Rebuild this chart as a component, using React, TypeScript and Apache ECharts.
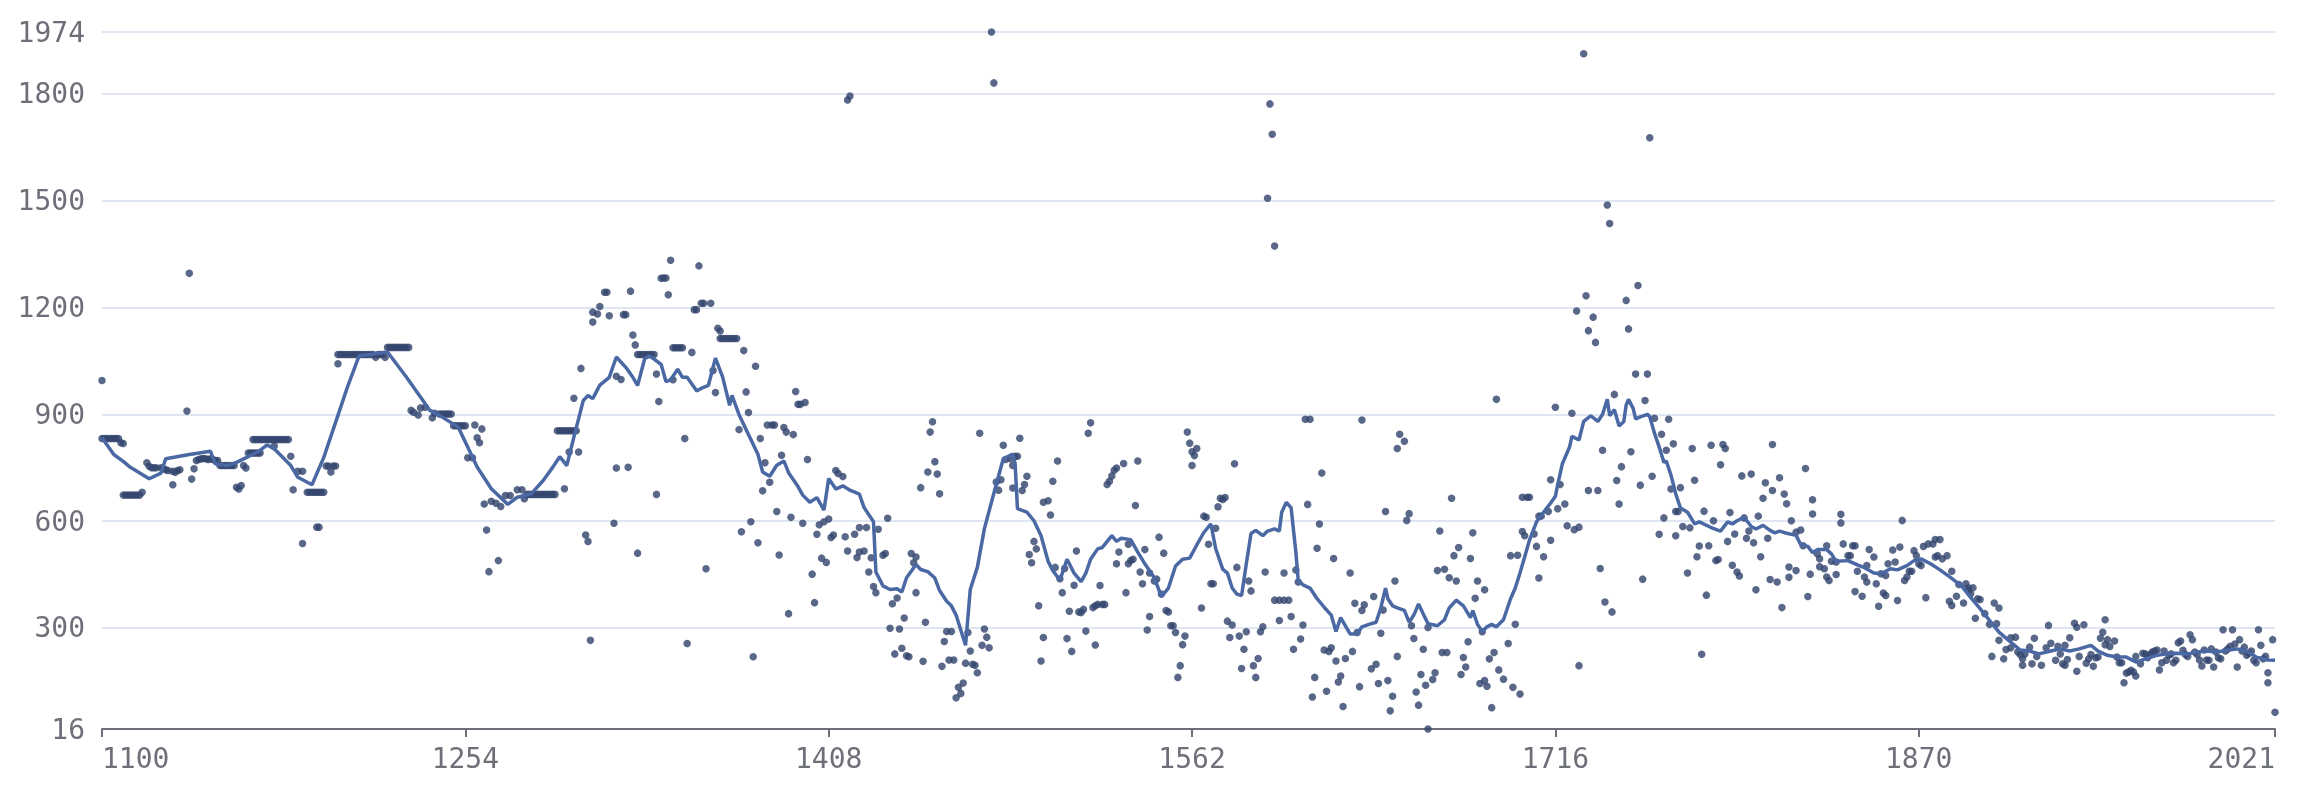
import React, { useEffect, useRef } from "react";
import * as echarts from "echarts";

// ---------- observations [year, value] ----------
const obs1100s: [number, number][] = [
  [1100, 995], [1100, 832], [1101, 832], [1102, 832], [1103, 832], [1104, 832], [1105, 832], [1106, 832], [1107, 832], [1108, 820],
  [1109, 818], [1109, 673], [1110, 673], [1111, 673], [1112, 673], [1113, 673], [1114, 673], [1115, 673], [1116, 673], [1117, 681],
  [1119, 764], [1120, 754], [1121, 750], [1122, 750], [1123, 750], [1125, 750], [1126, 748], [1127, 744], [1128, 742], [1130, 740],
  [1131, 737], [1132, 742], [1133, 744], [1130, 702], [1136, 909], [1137, 1296], [1138, 718], [1139, 747],
  [1140, 770], [1141, 773], [1142, 775], [1143, 776], [1144, 775], [1145, 773], [1146, 775], [1147, 773], [1148, 770], [1149, 770],
  [1150, 756], [1151, 756], [1152, 756], [1153, 756], [1154, 756], [1155, 756], [1156, 756],
  [1157, 695], [1158, 690], [1159, 700], [1160, 756], [1161, 749],
  [1162, 791], [1163, 791], [1164, 791], [1165, 791], [1166, 791], [1167, 791],
  [1164, 829], [1165, 829], [1166, 829], [1167, 829], [1168, 829], [1169, 829], [1170, 829], [1171, 829], [1172, 829], [1173, 829],
  [1174, 829], [1175, 829], [1176, 829], [1177, 829], [1178, 829], [1179, 829],
  [1173, 811], [1180, 782], [1181, 688], [1183, 740], [1185, 740], [1185, 537],
  [1187, 681], [1188, 681], [1189, 681], [1190, 681], [1191, 681], [1192, 681], [1193, 681], [1194, 681], [1191, 583], [1192, 583],
  [1195, 755], [1196, 755], [1197, 738], [1198, 755], [1199, 755],
];

const obs1200s: [number, number][] = [
  [1200, 1042], [1200, 1068], [1201, 1068], [1202, 1068], [1203, 1068], [1204, 1068], [1205, 1068], [1206, 1068], [1207, 1068],
  [1208, 1068], [1209, 1068], [1210, 1068], [1211, 1068], [1212, 1068], [1213, 1068], [1214, 1068], [1215, 1068], [1216, 1060],
  [1217, 1068], [1218, 1068], [1219, 1068], [1220, 1060],
  [1221, 1088], [1222, 1088], [1223, 1088], [1224, 1088], [1225, 1088], [1226, 1088], [1227, 1088], [1228, 1088], [1229, 1088], [1230, 1088],
  [1231, 911], [1232, 906], [1234, 898], [1235, 918], [1237, 920], [1240, 890], [1241, 903], [1243, 901], [1244, 901], [1245, 901],
  [1246, 901], [1247, 901], [1248, 901], [1249, 868], [1250, 868], [1251, 868], [1252, 868], [1253, 868], [1254, 868],
  [1255, 778], [1257, 778], [1258, 870], [1261, 859], [1259, 834], [1260, 820], [1262, 648], [1263, 575], [1264, 458], [1268, 489],
  [1265, 656], [1267, 650], [1269, 641], [1271, 672], [1273, 672], [1276, 688], [1278, 688], [1279, 663],
  [1280, 675], [1281, 675], [1282, 675], [1283, 675], [1284, 675], [1285, 675], [1286, 675], [1287, 675], [1288, 675], [1289, 675],
  [1290, 675], [1291, 675], [1292, 675], [1296, 691],
  [1293, 854], [1294, 854], [1295, 854], [1296, 854], [1297, 854], [1298, 854], [1299, 854], [1300, 854], [1301, 854],
  [1298, 794], [1300, 945],
];

const obs1300s: [number, number][] = [
  [1302, 794], [1303, 1029], [1305, 561], [1306, 543], [1307, 265], [1308, 1159], [1308, 1187], [1310, 1182], [1311, 1203],
  [1313, 1243], [1314, 1243], [1315, 1177], [1321, 1180], [1322, 1180], [1324, 1246], [1325, 1123], [1326, 1095], [1318, 749],
  [1323, 751], [1317, 594], [1327, 510], [1327, 1068], [1328, 1068], [1329, 1068], [1330, 1068], [1331, 1068], [1332, 1068],
  [1333, 1068], [1334, 1068], [1318, 1007], [1320, 998], [1335, 1013], [1336, 936], [1335, 675], [1337, 1282],
  [1341, 1333], [1338, 1283], [1339, 1283], [1340, 1236], [1353, 1317], [1351, 1194], [1352, 1194], [1354, 1212], [1355, 1212],
  [1358, 1212], [1361, 1142], [1362, 1134], [1362, 1113], [1363, 1113], [1364, 1113], [1365, 1113], [1366, 1113], [1367, 1113],
  [1368, 1113], [1369, 1113], [1372, 1079], [1377, 1035], [1342, 1087], [1343, 1087], [1344, 1087], [1345, 1087], [1346, 1087],
  [1350, 1074], [1342, 997], [1359, 1023], [1360, 961], [1347, 832], [1356, 466], [1348, 256], [1373, 963], [1374, 905],
  [1370, 857], [1376, 219], [1379, 832], [1381, 764], [1380, 685], [1383, 709], [1375, 598], [1371, 570], [1378, 539],
  [1382, 870], [1384, 870], [1385, 870], [1386, 627], [1387, 505], [1388, 785], [1389, 863], [1390, 850], [1393, 843],
  [1391, 340], [1392, 611], [1394, 964], [1395, 928], [1396, 928], [1398, 933], [1399, 773], [1397, 594],
];

const obs1400s: [number, number][] = [
  [1401, 451], [1402, 371], [1403, 563], [1404, 590], [1406, 598], [1408, 606], [1405, 496], [1407, 484], [1409, 554], [1410, 561],
  [1411, 742], [1412, 734], [1414, 725], [1415, 556], [1416, 516], [1416, 1783], [1417, 1794], [1419, 563], [1420, 498], [1421, 513],
  [1423, 516], [1421, 582], [1424, 582], [1425, 457], [1426, 497], [1427, 416], [1428, 399], [1429, 577], [1431, 504], [1432, 509],
  [1433, 608], [1434, 299], [1435, 368], [1436, 227], [1437, 384], [1438, 297], [1439, 243], [1440, 328], [1441, 222], [1442, 219],
  [1443, 509], [1444, 483], [1445, 499], [1445, 399], [1447, 694], [1448, 206], [1449, 316], [1450, 738],
  [1451, 850], [1452, 879], [1453, 767], [1454, 732], [1455, 677], [1472, 847], [1482, 813], [1489, 833], [1483, 773], [1485, 775],
  [1487, 782], [1488, 782], [1479, 710], [1481, 716], [1480, 687], [1486, 693], [1486, 756], [1490, 686], [1491, 703], [1492, 726],
  [1457, 262], [1458, 290], [1460, 290], [1456, 192], [1459, 210], [1461, 210], [1462, 104], [1463, 133], [1465, 145], [1464, 116],
  [1466, 201], [1467, 287], [1468, 235], [1469, 198], [1470, 195], [1471, 174], [1473, 251], [1474, 297], [1475, 274], [1476, 244],
  [1477, 1974], [1478, 1831], [1493, 506], [1494, 483], [1495, 543], [1496, 522], [1497, 362], [1498, 207], [1499, 273], [1499, 653],
];

const obs1500s: [number, number][] = [
  [1501, 657], [1502, 617], [1503, 712], [1505, 769], [1504, 470], [1506, 438], [1507, 399], [1508, 467], [1509, 270], [1510, 347],
  [1511, 234], [1512, 420], [1513, 516], [1514, 345], [1515, 343], [1516, 352], [1517, 291], [1518, 847], [1519, 876], [1520, 357],
  [1521, 362], [1522, 366], [1524, 366], [1525, 366], [1521, 252], [1523, 419], [1526, 703], [1527, 712], [1528, 727], [1529, 743],
  [1530, 749], [1530, 480], [1531, 513], [1533, 762], [1534, 399], [1535, 480], [1536, 489], [1535, 535], [1537, 493], [1538, 644],
  [1539, 769], [1540, 457], [1541, 424], [1542, 520], [1543, 294], [1544, 332], [1544, 454], [1546, 432], [1547, 437], [1548, 555],
  [1549, 395], [1550, 510], [1551, 349], [1552, 345], [1553, 306], [1554, 306], [1555, 287], [1556, 161], [1557, 194], [1558, 253],
  [1559, 277], [1560, 850], [1561, 819], [1562, 756], [1562, 795], [1563, 784], [1564, 804], [1566, 356], [1567, 614], [1568, 611],
  [1569, 535], [1570, 424], [1571, 424], [1572, 580], [1573, 640], [1574, 664], [1575, 661], [1576, 666], [1580, 761], [1577, 319],
  [1579, 308], [1578, 273], [1581, 470], [1582, 277], [1585, 289], [1583, 186], [1584, 240], [1586, 432], [1587, 404], [1588, 194],
  [1589, 161], [1590, 214], [1591, 289], [1592, 303], [1593, 457], [1595, 1772], [1596, 1687], [1594, 1507], [1597, 1373],
  [1597, 378], [1599, 378],
];

const obs1600s: [number, number][] = [
  [1601, 378], [1603, 378], [1599, 321], [1601, 454], [1604, 332], [1605, 240], [1606, 463], [1607, 429], [1608, 269], [1609, 308],
  [1610, 886], [1612, 886], [1611, 647], [1613, 106], [1614, 161], [1615, 524], [1616, 592], [1617, 735], [1618, 238], [1620, 234],
  [1619, 122], [1621, 244], [1622, 495], [1623, 207], [1624, 148], [1625, 165], [1626, 79], [1627, 214], [1629, 454], [1630, 234],
  [1631, 369], [1632, 287], [1633, 135], [1634, 884], [1634, 349], [1635, 365], [1638, 185], [1639, 388], [1640, 198], [1641, 144],
  [1642, 285], [1643, 350], [1644, 627], [1645, 152], [1646, 67], [1647, 108], [1648, 432], [1649, 220], [1649, 804], [1650, 844],
  [1652, 824], [1653, 602], [1654, 621], [1655, 306], [1656, 270], [1657, 120], [1658, 83], [1659, 169], [1660, 240], [1661, 139],
  [1662, 301], [1662, 16], [1664, 155], [1665, 174], [1666, 461], [1667, 572], [1668, 231], [1669, 465], [1670, 231], [1671, 441],
  [1672, 664], [1673, 503], [1674, 432], [1675, 526], [1676, 169], [1677, 217], [1678, 190], [1679, 261], [1680, 495], [1681, 567],
  [1682, 383], [1683, 432], [1684, 144], [1685, 289], [1686, 152], [1686, 407], [1687, 136], [1688, 213], [1689, 76], [1690, 231],
  [1691, 942], [1692, 182], [1694, 156], [1696, 256], [1698, 133], [1699, 310],
];

const obs1700s: [number, number][] = [
  [1701, 114], [1697, 503], [1700, 504], [1702, 667], [1704, 667], [1705, 667], [1702, 571], [1703, 559], [1707, 564], [1708, 529],
  [1709, 440], [1709, 614], [1710, 614], [1711, 500], [1713, 627], [1714, 716], [1714, 546], [1716, 920], [1717, 635], [1718, 703],
  [1720, 648], [1721, 587], [1723, 903], [1724, 576], [1726, 583], [1725, 1190], [1726, 194], [1728, 1913], [1729, 1233], [1730, 1135],
  [1730, 686], [1732, 1173], [1733, 1102], [1734, 686], [1735, 467], [1736, 799], [1737, 373], [1738, 1488], [1739, 1436], [1740, 345],
  [1741, 956], [1742, 714], [1743, 648], [1744, 753], [1746, 1220], [1747, 1140], [1748, 795], [1750, 1013], [1751, 1262], [1752, 701],
  [1753, 437], [1754, 939], [1755, 1013], [1756, 1677], [1757, 726], [1758, 889], [1760, 563], [1761, 844], [1762, 609], [1763, 799],
  [1764, 886], [1765, 690], [1766, 817], [1767, 559], [1767, 627], [1768, 627], [1769, 694], [1770, 585], [1772, 454], [1773, 581],
  [1774, 804], [1775, 715], [1776, 500], [1777, 530], [1778, 226], [1779, 628], [1780, 392], [1781, 531], [1782, 813], [1783, 601],
  [1784, 489], [1785, 492], [1786, 758], [1787, 815], [1788, 804], [1789, 543], [1790, 624], [1791, 476], [1792, 564], [1793, 457],
  [1794, 446], [1795, 727], [1796, 609], [1797, 552], [1798, 572], [1799, 732],
];

const obs1800s: [number, number][] = [
  [1800, 539], [1801, 407], [1802, 614], [1803, 500], [1804, 664], [1805, 708], [1806, 552],
  [1807, 436], [1808, 686], [1808, 815], [1810, 429], [1811, 722], [1812, 357], [1813, 676], [1814, 649], [1815, 442], [1815, 471],
  [1818, 461], [1816, 601], [1818, 569], [1820, 575], [1821, 531], [1822, 748], [1823, 388], [1824, 451], [1825, 660], [1825, 620],
  [1827, 508], [1828, 494], [1828, 472], [1830, 466], [1831, 531], [1831, 443], [1832, 433], [1835, 450], [1833, 487], [1835, 485],
  [1837, 595], [1837, 619], [1838, 536], [1840, 503], [1841, 503], [1842, 531], [1843, 531], [1844, 459], [1847, 443], [1848, 429],
  [1843, 402], [1846, 389], [1848, 475], [1849, 520], [1851, 499], [1852, 424], [1853, 361], [1854, 452], [1856, 447], [1855, 398],
  [1856, 391], [1857, 480], [1860, 485], [1859, 519], [1861, 377], [1862, 527], [1863, 602], [1864, 433], [1865, 443], [1866, 459],
  [1867, 459], [1868, 517], [1869, 503], [1870, 480], [1871, 475], [1872, 529], [1874, 536], [1876, 536], [1873, 385], [1877, 499],
  [1878, 503], [1877, 548], [1879, 548], [1880, 494], [1882, 503], [1884, 459], [1883, 375], [1884, 363], [1886, 389], [1887, 422],
  [1889, 370], [1890, 424], [1891, 413], [1893, 413], [1891, 405], [1892, 396], [1894, 327], [1895, 382], [1896, 380], [1898, 340],
];

const obs1900s: [number, number][] = [
  [1900, 310], [1901, 220], [1902, 370], [1903, 312], [1904, 356], [1904, 265], [1906, 213], [1907, 239], [1909, 244], [1911, 274],
  [1909, 272], [1912, 232], [1913, 225], [1914, 213], [1914, 195], [1915, 227], [1917, 246], [1918, 199], [1919, 271], [1920, 220],
  [1922, 195], [1924, 244], [1925, 307], [1926, 257], [1928, 209], [1929, 248], [1930, 227], [1931, 199], [1932, 195], [1932, 251],
  [1933, 211], [1934, 272], [1936, 313], [1937, 178], [1937, 302], [1940, 309], [1938, 220], [1941, 201], [1942, 213], [1943, 225],
  [1944, 192], [1945, 216], [1946, 218], [1947, 271], [1948, 288], [1949, 323], [1949, 253], [1950, 267], [1951, 248], [1953, 263],
  [1954, 218], [1955, 202], [1956, 202], [1957, 146], [1958, 173], [1959, 176], [1960, 181], [1961, 176], [1962, 165], [1962, 220],
  [1964, 199], [1965, 229], [1966, 227], [1967, 216], [1968, 225], [1969, 232], [1970, 235], [1971, 238], [1972, 182], [1973, 202],
  [1974, 235], [1975, 209], [1976, 223], [1977, 227], [1978, 202], [1979, 209], [1980, 258], [1981, 263], [1982, 237], [1983, 225],
  [1984, 220], [1985, 281], [1986, 267], [1987, 232], [1988, 225], [1989, 210], [1990, 193], [1991, 238], [1992, 210], [1993, 209],
  [1994, 241], [1995, 190], [1996, 232], [1997, 216], [1998, 213], [1999, 295],
];

const obs2000s: [number, number][] = [
  [2000, 235], [2001, 241], [2002, 248], [2003, 295], [2004, 255], [2005, 190], [2006, 267], [2007, 235], [2008, 246], [2009, 223],
  [2010, 229], [2011, 235], [2012, 209], [2013, 202], [2014, 295], [2015, 251], [2016, 213], [2017, 220], [2018, 174], [2018, 146],
  [2020, 267], [2021, 63],
];

// ---------- trend line [year, value] ----------
const trendMedieval: [number, number][] = [
  [1100, 834], [1105, 787], [1109, 768], [1112, 751], [1120, 719], [1125, 735], [1127, 775], [1137, 787], [1146, 796], [1148, 761],
  [1153, 756], [1157, 765], [1166, 794], [1170, 814], [1173, 803], [1180, 756], [1183, 723], [1189, 702], [1194, 779], [1200, 897],
  [1204, 976], [1209, 1065], [1214, 1068], [1218, 1072], [1221, 1075], [1229, 1005], [1239, 911], [1243, 897], [1251, 864], [1255, 808],
  [1259, 752], [1265, 691], [1272, 647], [1276, 667], [1282, 677], [1287, 714], [1291, 751], [1294, 781], [1297, 756], [1300, 836],
  [1304, 939], [1306, 953], [1308, 944], [1311, 982], [1315, 1004], [1318, 1061], [1322, 1032], [1325, 1004], [1327, 981], [1330, 1056],
  [1332, 1064], [1334, 1055], [1337, 1040], [1339, 992], [1341, 997], [1344, 1027], [1346, 1004], [1348, 1004], [1352, 966], [1355, 976],
  [1357, 981], [1360, 1058], [1363, 1006], [1366, 925], [1367, 953], [1370, 899], [1374, 843], [1378, 788], [1380, 738], [1383, 726],
  [1386, 757], [1389, 769], [1391, 736], [1395, 697], [1397, 673], [1400, 653], [1403, 666], [1406, 631], [1408, 720], [1411, 690],
  [1414, 699], [1417, 687], [1421, 676], [1423, 638], [1427, 598], [1428, 457], [1431, 418], [1434, 408], [1437, 410], [1439, 401],
  [1441, 441], [1445, 478], [1447, 464], [1450, 458], [1453, 440], [1455, 405], [1458, 375], [1460, 362], [1462, 336], [1466, 251],
  [1468, 408], [1471, 470], [1474, 579], [1479, 703], [1482, 775], [1486, 788], [1487, 762], [1488, 635], [1492, 625], [1495, 601],
  [1498, 559],
];

const trendEarlyModern: [number, number][] = [
  [1501, 487], [1503, 461], [1506, 434], [1509, 493], [1512, 454], [1515, 430], [1517, 454], [1519, 493], [1522, 522], [1524, 526],
  [1528, 559], [1530, 543], [1532, 552], [1536, 548], [1539, 513], [1542, 480], [1546, 441], [1549, 388], [1552, 412], [1555, 474],
  [1558, 493], [1561, 496], [1564, 533], [1567, 568], [1570, 592], [1572, 523], [1575, 465], [1577, 454], [1579, 412], [1581, 395],
  [1583, 391], [1585, 480], [1587, 565], [1589, 574], [1592, 559], [1594, 572], [1597, 578], [1599, 572], [1600, 625], [1602, 653],
  [1604, 637], [1606, 513], [1607, 434], [1609, 421], [1612, 412], [1615, 382], [1618, 358], [1621, 336], [1623, 290], [1625, 329],
  [1627, 306], [1629, 283], [1632, 283], [1634, 303], [1637, 310], [1640, 316], [1642, 356], [1644, 412], [1645, 382], [1647, 362],
  [1649, 356], [1652, 349], [1654, 316], [1656, 336], [1658, 367], [1660, 339], [1662, 312], [1666, 306], [1669, 323], [1671, 356],
  [1674, 378], [1677, 362], [1680, 329], [1681, 349], [1683, 310], [1685, 290], [1687, 303], [1689, 310], [1691, 303], [1694, 323],
  [1697, 382], [1699, 412], [1701, 454], [1703, 500], [1705, 546], [1708, 598], [1711, 625], [1714, 651], [1716, 670], [1717, 703],
  [1719, 762], [1722, 808], [1723, 838], [1726, 828], [1728, 880], [1731, 896], [1734, 880], [1736, 900], [1738, 942], [1739, 896],
  [1741, 913], [1743, 867], [1745, 880], [1746, 926], [1747, 942], [1749, 916], [1750, 887], [1752, 893], [1755, 900], [1756, 893],
  [1758, 847], [1760, 808], [1762, 765], [1763, 769], [1765, 729], [1767, 677], [1769, 637], [1772, 625], [1775, 592], [1777, 598],
  [1782, 582], [1786, 572], [1789, 598], [1791, 592], [1793, 601], [1796, 611], [1799, 585],
];

const trendModern: [number, number][] = [
  [1801, 578], [1804, 588], [1807, 574], [1809, 567], [1811, 572], [1814, 566], [1818, 560], [1820, 534], [1823, 529], [1825, 511],
  [1827, 520], [1831, 520], [1833, 508], [1835, 487], [1840, 489], [1844, 477], [1847, 469], [1851, 454], [1854, 452], [1858, 466],
  [1861, 463], [1865, 475], [1868, 489], [1871, 494], [1875, 480], [1879, 463], [1883, 444], [1888, 419], [1892, 386], [1896, 354],
  [1900, 321], [1904, 288], [1909, 260], [1913, 238], [1917, 235], [1921, 227], [1926, 235], [1930, 241], [1934, 235], [1938, 241],
  [1943, 251], [1946, 235], [1950, 223], [1954, 218], [1958, 218], [1962, 204], [1967, 215], [1971, 223], [1975, 227], [1979, 229],
  [1984, 227], [1988, 232], [1992, 235], [1996, 232], [2001, 238], [2005, 241], [2009, 235], [2013, 218], [2018, 210], [2021, 209],
];

const X_MIN = 1100;
const X_MAX = 2021;
const X_STEP = 154;
const Y_MIN = 16;
const Y_MAX = 1974;

export default function App() {
  const ref = useRef<HTMLDivElement>(null);

  useEffect(() => {
    if (!ref.current) return;
    const chart = echarts.init(ref.current, undefined, { renderer: "svg" });
    const observations = [
      ...obs1100s, ...obs1200s, ...obs1300s, ...obs1400s, ...obs1500s,
      ...obs1600s, ...obs1700s, ...obs1800s, ...obs1900s, ...obs2000s,
    ];
    const trend = [...trendMedieval, ...trendEarlyModern, ...trendModern];
    const labelStyle = {
      fontFamily: "'DejaVu Sans Mono', monospace",
      fontSize: 28,
      color: "#6E7079",
      formatter: (v: number) => String(v),
    };
    chart.setOption({
      animation: false,
      grid: { left: 102, right: 37, top: 32, bottom: 61, containLabel: false },
      xAxis: {
        type: "value",
        min: X_MIN,
        max: X_MAX,
        interval: X_STEP,
        splitLine: { show: false },
        axisLine: { show: true, lineStyle: { color: "#6E7079", width: 2 } },
        axisTick: { show: true, length: 8, lineStyle: { color: "#6E7079", width: 2 } },
        axisLabel: {
          ...labelStyle,
          margin: 15,
          alignMinLabel: "left",
          alignMaxLabel: "right",
        },
      },
      yAxis: {
        type: "value",
        min: Y_MIN,
        max: Y_MAX,
        splitNumber: 7,
        axisLine: { show: false },
        axisTick: { show: false },
        splitLine: { show: true, lineStyle: { color: "#E0E6F1", width: 2 } },
        axisLabel: { ...labelStyle, margin: 17 },
      },
      series: [
        {
          type: "scatter",
          data: observations,
          symbolSize: 7.5,
          itemStyle: { color: "#34466f", opacity: 0.82 },
          z: 2,
        },
        {
          type: "line",
          data: trend,
          showSymbol: false,
          symbol: "none",
          lineStyle: { color: "#4a68a3", width: 3.5 },
          z: 3,
        },
      ],
    });
    return () => chart.dispose();
  }, []);

  return (
    <div
      ref={ref}
      style={{ position: "fixed", left: 0, top: 0, width: "2312px", height: "790px" }}
    />
  );
}
